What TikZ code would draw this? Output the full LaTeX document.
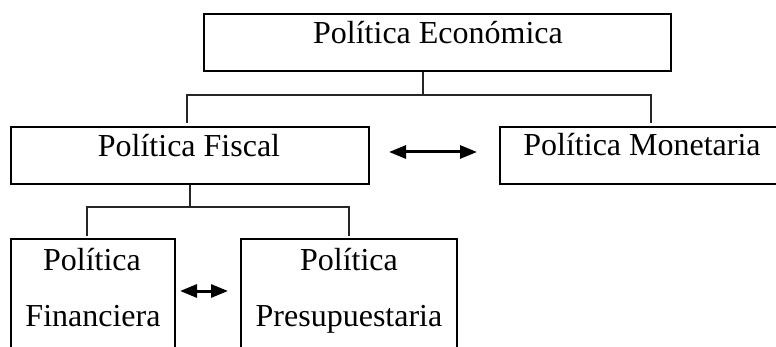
\documentclass[tikz,border=0pt]{standalone}
\usepackage{fontspec}
\setmainfont{Liberation Serif}
\usetikzlibrary{arrows.meta}
\begin{document}
\begin{tikzpicture}[x=1pt,y=-1pt,
  box/.style={draw=black,line width=2pt,rectangle,inner sep=0pt},
  lbl/.style={anchor=base,inner sep=0pt,font=\fontsize{32}{36}\selectfont},
  conn/.style={draw=black!85,line width=1.1pt},
  dbl/.style={line width=3pt,{Triangle[length=17pt,width=13pt]}-{Triangle[length=17pt,width=13pt]}}]
\useasboundingbox (0,0) rectangle (776,347);
\clip (0,0) rectangle (776,347);
% boxes
\node[box,minimum width=467pt,minimum height=57pt] (eco) at (437.5,42.5) {};
\node[box,minimum width=358pt,minimum height=57pt] (fis) at (190,155.5) {};
\node[box,minimum width=290pt,minimum height=57pt] (mon) at (645,155.5) {};
\node[box,minimum width=164pt,minimum height=121pt] (fin) at (93,299.5) {};
\node[box,minimum width=216pt,minimum height=121pt] (pre) at (349,299.5) {};
% texts
\node[lbl] (teco) at (438,44) {Política Económica};
\node[lbl] (tfis) at (189,157) {Política Fiscal};
\node[lbl] (tmon) at (642,156) {Política Monetaria};
\node[lbl] (tfin1) at (92,271) {Política};
\node[lbl] (tfin2) at (93,326) {Financiera};
\node[lbl] (tpre1) at (349,271) {Política};
\node[lbl] (tpre2) at (349,326) {Presupuestaria};
% connectors
\coordinate (ja) at (423,95);
\coordinate (jl) at (187,95);
\coordinate (jr) at (651,95);
\draw[conn] (eco.south -| ja) -- (ja);
\draw[conn,shorten <=2.5pt,shorten >=2.5pt] (fis.north -| jl) -- (jl) -- (jr) -- (mon.north -| jr);
\coordinate (jb) at (190,207);
\coordinate (jc) at (87,207);
\coordinate (jd) at (349,207);
\draw[conn] (fis.south -| jb) -- (jb);
\draw[conn,shorten <=1.5pt,shorten >=1.5pt] (fin.north -| jc) -- (jc) -- (jd) -- (pre.north -| jd);
% arrows
\draw[dbl] ([xshift=19pt,yshift=3.5pt]fis.east) -- ([xshift=-22pt,yshift=3.5pt]mon.west);
\draw[dbl] ([xshift=4pt,yshift=8.5pt]fin.east) -- ([xshift=-12pt,yshift=8.5pt]pre.west);
\end{tikzpicture}
\end{document}
